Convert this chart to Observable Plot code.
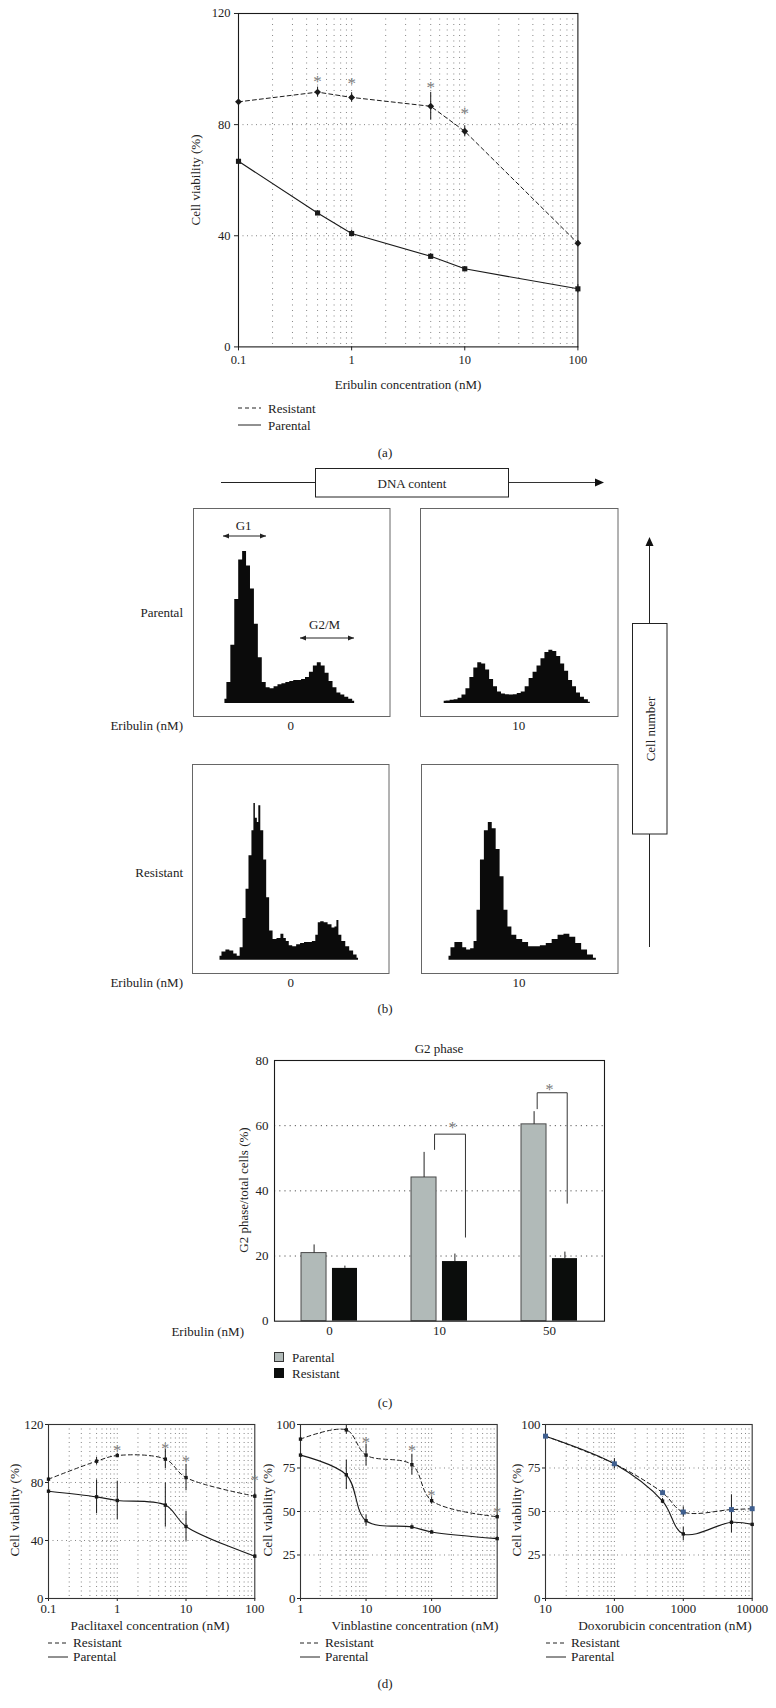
<!DOCTYPE html>
<html><head><meta charset="utf-8">
<script src="https://cdn.jsdelivr.net/npm/d3@7"></script>
<script src="https://cdn.jsdelivr.net/npm/@observablehq/plot@0.6"></script>
<style>
html,body{margin:0;padding:0;background:#fff;}
#page{position:relative;width:776px;height:1708px;overflow:hidden;background:#fff;font-family:"Liberation Serif","DejaVu Serif",serif;color:#222;}
.t{position:absolute;white-space:nowrap;line-height:1;}
.abs{position:absolute;}
</style></head><body><div id="page"></div>
<script>
// ---------------- DATA ----------------
// (a) Eribulin viability
const eribulinConc = [0.1, 0.5, 1, 5, 10, 100];
const eribulinTicks = [0.1, 1, 10, 100];
const aResistant = [88.2, 91.7, 89.8, 86.6, 77.6, 37.3];
const aResistantErr = [1.5, 1.8, 1.7, 5.0, 2.0, 1.0];
const aParental = [66.8, 48.2, 40.8, 32.6, 28.1, 20.9];
const aParentalErr = [3.3, 0.8, 1.2, 1.0, 0.8, 1.5];
const aStarConc = [0.5, 1, 5, 10];
const aStarY = [97.2, 96.6, 95.0, 85.8];

// (b) DNA content histograms (channel 0-100 across the box, count as % of box height)
const p0Channel = [16,18,20,22,24,26,28,30,32,34,36,38,40,42,44,46,48,50,52,54,56,58,60,62,64,66,68,70,72,74,76,78,80,82];
const p0Count = [2,10,28,50,69,73,66,55,38,22,10,7.5,7,8,9,9.5,10,10.5,11,11,11.5,12.5,15,18,19.5,18,14.5,10.5,7.5,5,4,3,2,1];
const p10Channel = [12,14,16,18,20,22,24,26,28,30,32,34,36,38,40,42,44,46,48,50,52,54,56,58,60,62,64,66,68,70,72,74,76,78,80,82,84,86];
const p10Count = [1,1.2,1.5,1.8,2.5,4,7,12.5,17,19.5,19,16,11.5,8,5.5,4.5,4.2,4,4.2,4.8,5.5,8,12,15,18,21.5,24.5,25.5,25,22.5,19,15.5,11,8,5,3,1.8,0.5];
const r0Channel = [14,16,18,20,22,23.5,25,26.5,28,29.5,31,31.5,32.5,33.5,34,35.5,37,38.5,40,42,44,46,47,48.5,50,52,54,56,58,60,62,63.5,64.5,66,68,70,72,73,74,75,77,79,81,83,84.5];
const r0Count = [2,4,5,4.5,3,2,6,20,34,50,62,75,68,66,74,62,48,30,14,10,10.5,12.5,10.5,9,7,6.5,7.5,8,8.5,8.5,9,12,18,18.5,18,17,15.5,16,19,12,9,6.5,4.5,2.5,1];
const r10Channel = [14,16,18,20,22,24,26,27.5,29,31,33,35,37,39,41,43,45,47,50,53,56,59,62,65,68,71,74,77,80,83,86,89];
const r10Count = [2,6,8.5,8.5,6,5,5.5,9,24,48,62,66,63,53,40,24,16,12,10,8.5,6.5,6.5,7,8,10,12,12.5,11,8,5,2.5,1];

// (c) G2 phase bars
const doses = ["0", "10", "50"];
const cParental = [20.9, 44.1, 60.4];
const cParentalErr = [2.5, 7.7, 3.9];
const cResistant = [16.2, 18.3, 19.2];
const cResistantErr = [0.7, 2.3, 2.0];
const cBracketDose = [1, 2];
const cBracketLeft = [-0.045, -0.112];
const cBracketRight = [0.236, 0.161];
const cBracketTop = [57.4, 70.1];
const cBracketLeftEnd = [52.7, 65.2];
const cBracketRightEnd = [25.8, 36.2];
const cStarOffset = [0.118, 0.0];
const cStarY = [61.0, 72.6];

// (d) other drugs
const pacConc = [0.1, 0.5, 1, 5, 10, 100];
const pacTicks = [0.1, 1, 10, 100];
const pacResistant = [82.3, 94.7, 98.6, 96.1, 83.4, 70.6];
const pacResistantErr = [1.5, 2.6, 1.5, 6.7, 9.1, 1.5];
const pacParental = [74.0, 70.1, 67.6, 64.4, 49.7, 29.2];
const pacParentalErr = [1.0, 11.7, 13.3, 15.2, 10.3, 1.0];
const pacStarConc = [1, 5, 10, 100];
const pacStarY = [105.0, 106.4, 97.7, 84.6];

const vinConc = [1, 5, 10, 50, 100, 1000];
const vinTicks = [1, 10, 100];
const vinResistant = [91.6, 96.9, 82.4, 76.9, 56.2, 47.0];
const vinResistantErr = [1.0, 2.5, 6.3, 6.0, 2.0, 1.0];
const vinParental = [82.4, 71.1, 44.7, 41.1, 38.2, 34.4];
const vinParentalErr = [1.0, 8.5, 3.2, 1.2, 1.0, 1.0];
const vinStarConc = [10, 50, 100, 1000];
const vinStarY = [92.4, 87.6, 61.6, 52.2];

const doxConc = [10, 100, 500, 1000, 5000, 10000];
const doxTicks = [10, 100, 1000, 10000];
const doxResistant = [93.3, 77.4, 60.8, 49.7, 51.1, 51.6];
const doxResistantErr = [0.5, 1.5, 1.5, 3.0, 8.5, 1.0];
const doxParental = [93.3, 77.4, 56.0, 37.1, 43.8, 42.6];
const doxParentalErr = [0.5, 3.0, 1.5, 4.0, 6.0, 0.5];

// ---------------- HELPERS ----------------
const SERIF = '"Liberation Serif","DejaVu Serif",serif';
const INK = "#1a1a1a";
const FS = 13;
const page = document.getElementById("page");
function text(str, x, y, o = {}) {
  const {anchor = "middle", size = FS, rotate = 0, color = "#222"} = o;
  const d = document.createElement("div");
  d.className = "t"; d.textContent = str;
  d.style.left = x + "px"; d.style.top = y + "px";
  d.style.fontSize = size + "px"; d.style.color = color;
  const tx = anchor === "middle" ? "-50%" : anchor === "end" ? "-100%" : "0";
  d.style.transform = `translate(${tx},-50%)` + (rotate ? ` rotate(${rotate}deg)` : "");
  page.appendChild(d);
}
function place(el, left, top) {
  const d = document.createElement("div");
  d.className = "abs"; d.style.left = left + "px"; d.style.top = top + "px";
  d.appendChild(el); page.appendChild(d);
}
function logGrid([lo, hi]) {
  const out = [];
  for (let e = Math.floor(Math.log10(lo)) ; e <= Math.ceil(Math.log10(hi)); e++)
    for (let k = 1; k < 10; k++) { const v = k * Math.pow(10, e); if (v > lo * 1.001 && v < hi * 0.999) out.push(v); }
  return out;
}
const plotStyle = (fs) => ({fontFamily: SERIF, fontSize: fs + "px", background: "transparent", color: "#222", overflow: "visible"});
const dotted = (dash) => ({stroke: "#777", strokeWidth: 0.9, strokeDasharray: dash});

// ---------------- (a) ----------------
{
  const data = eribulinConc.map((c, i) => ({c, r: aResistant[i], re: aResistantErr[i], p: aParental[i], pe: aParentalErr[i]}));
  const stars = aStarConc.map((c, i) => ({c, y: aStarY[i]}));
  const fw = 339.4, fh = 333.4, ml = 40, mr = 10, mt = 10, mb = 30;
  const pl = Plot.plot({
    width: fw + ml + mr, height: fh + mt + mb, marginLeft: ml, marginRight: mr, marginTop: mt, marginBottom: mb,
    style: plotStyle(12.5),
    x: {type: "log", domain: [0.1, 100], ticks: eribulinTicks, tickFormat: d => String(d), tickSize: 4, tickPadding: 4, label: null},
    y: {domain: [0, 120], ticks: [0, 40, 80, 120], tickSize: 4, tickPadding: 4, label: null},
    marks: [
      Plot.ruleX(logGrid([0.1, 100]), dotted("1,4.5")),
      Plot.ruleY([40, 80], dotted("1,3.5")),
      Plot.frame({stroke: INK, strokeWidth: 1.1}),
      Plot.ruleX(data, {x: "c", y1: d => d.r - d.re, y2: d => d.r + d.re, stroke: INK}),
      Plot.ruleX(data, {x: "c", y1: d => d.p - d.pe, y2: d => d.p + d.pe, stroke: INK}),
      Plot.line(data, {x: "c", y: "r", stroke: INK, strokeWidth: 1, strokeDasharray: "4,3"}),
      Plot.line(data, {x: "c", y: "p", stroke: INK, strokeWidth: 1.1}),
      Plot.dot(data, {x: "c", y: "r", symbol: "diamond2", fill: INK, r: 3.1}),
      Plot.dot(data, {x: "c", y: "p", symbol: "square", fill: INK, r: 2.9}),
      Plot.text(stars, {x: "c", y: "y", text: () => "*", fill: "#7a7a7a", fontSize: 17, dy: 5})
    ]
  });
  place(pl, 237.6 - ml, 13.3 - mt);
  text("Cell viability (%)", 195, 180, {rotate: -90});
  text("Eribulin concentration (nM)", 408, 384);
  text("Resistant", 268, 408, {anchor: "start"});
  text("Parental", 268, 425, {anchor: "start"});
  text("(a)", 385, 452);
}

// ---------------- (b) ----------------
function histPlot(ch, ct, w, h) {
  const data = ch.map((c, i) => ({c, n: ct[i]}));
  return Plot.plot({
    width: w, height: h, margin: 0, style: plotStyle(10),
    x: {domain: [0, 100], axis: null}, y: {domain: [-6.3, 93.7], axis: null},
    marks: [
      Plot.areaY(data, {x: "c", y: "n", curve: "step", fill: "#0b0b0b"}),
      Plot.frame({stroke: "#666"})
    ]
  });
}
place(histPlot(p0Channel, p0Count, 196.5, 208), 192.5, 508);
place(histPlot(p10Channel, p10Count, 197.5, 208), 420, 508);
place(histPlot(r0Channel, r0Count, 196.5, 209), 191.5, 764);
place(histPlot(r10Channel, r10Count, 196.5, 209), 421, 764);
text("DNA content", 412, 482.5);
text("Parental", 183, 612, {anchor: "end"});
text("Eribulin (nM)", 183, 725, {anchor: "end"});
text("Resistant", 183, 872, {anchor: "end"});
text("Eribulin (nM)", 183, 982, {anchor: "end"});
text("0", 290.7, 725); text("10", 518.8, 725);
text("0", 290.7, 982); text("10", 519, 982);
text("G1", 243.6, 525);
text("G2/M", 324.6, 624);
text("Cell number", 649.5, 728.5, {rotate: -90});
text("(b)", 385, 1008);

// ---------------- (c) ----------------
{
  const data = doses.map((d, i) => ({i, p: cParental[i], pe: cParentalErr[i], r: cResistant[i], re: cResistantErr[i]}));
  const br = [];
  cBracketDose.forEach((g, k) => {
    br.push({k, x: g + cBracketLeft[k], y: cBracketLeftEnd[k]});
    br.push({k, x: g + cBracketLeft[k], y: cBracketTop[k]});
    br.push({k, x: g + cBracketRight[k], y: cBracketTop[k]});
    br.push({k, x: g + cBracketRight[k], y: cBracketRightEnd[k]});
  });
  const stars = cBracketDose.map((g, k) => ({x: g + cStarOffset[k], y: cStarY[k]}));
  const fw = 330, fh = 260.7, ml = 40, mr = 10, mt = 10, mb = 25;
  const pl = Plot.plot({
    width: fw + ml + mr, height: fh + mt + mb, marginLeft: ml, marginRight: mr, marginTop: mt, marginBottom: mb,
    style: plotStyle(13),
    x: {domain: [-0.5, 2.5], ticks: [0, 1, 2], tickFormat: i => doses[i], tickSize: 0, tickPadding: 5, label: null},
    y: {domain: [0, 80], ticks: [0, 20, 40, 60, 80], tickSize: 0, tickPadding: 6, label: null},
    marks: [
      Plot.ruleY([20, 40, 60], {stroke: "#555", strokeWidth: 1, strokeDasharray: "1.2,4"}),
      Plot.rect(data, {x1: d => d.i - 0.2545, x2: d => d.i - 0.027, y1: 0, y2: "p", fill: "#b1bab8", stroke: "#4a4a4a", strokeWidth: 1}),
      Plot.rect(data, {x1: d => d.i + 0.027, x2: d => d.i + 0.2545, y1: 0, y2: "r", fill: "#0b0d0c"}),
      Plot.ruleX(data, {x: d => d.i - 0.14, y1: "p", y2: d => d.p + d.pe, stroke: "#222"}),
      Plot.ruleX(data, {x: d => d.i + 0.14, y1: "r", y2: d => d.r + d.re, stroke: "#222"}),
      Plot.line(br, {x: "x", y: "y", z: "k", stroke: "#333", strokeWidth: 1}),
      Plot.text(stars, {x: "x", y: "y", text: () => "*", fill: "#7a7a7a", fontSize: 16, dy: 5}),
      Plot.frame({stroke: INK, strokeWidth: 1.1})
    ]
  });
  place(pl, 274 - ml, 1060 - mt);
  text("G2 phase", 439, 1048);
  text("G2 phase/total cells (%)", 243, 1190, {rotate: -90});
  text("Eribulin (nM)", 244, 1331, {anchor: "end"});
  text("Parental", 292, 1357, {anchor: "start"});
  text("Resistant", 292, 1373, {anchor: "start"});
  text("(c)", 385, 1402);
}

// ---------------- (d) ----------------
function dPlot(o) {
  const data = o.conc.map((c, i) => ({c, r: o.res[i], re: o.resErr[i], p: o.par[i], pe: o.parErr[i]}));
  const stars = (o.starConc || []).map((c, i) => ({c, y: o.starY[i]}));
  const fh = 174, ml = 32, mr = 8, mt = 8, mb = 24;
  const pl = Plot.plot({
    width: o.fw + ml + mr, height: fh + mt + mb, marginLeft: ml, marginRight: mr, marginTop: mt, marginBottom: mb,
    style: plotStyle(12.8),
    x: {type: "log", domain: o.xDomain, ticks: o.xTicks, tickFormat: d => String(d), tickSize: 3, tickPadding: 2, label: null},
    y: {domain: o.yDomain, ticks: o.yTicks, tickSize: 3, tickPadding: 2, label: null},
    marks: [
      Plot.ruleX(logGrid(o.xDomain), dotted("1,3.5")),
      Plot.ruleY(o.yTicks.slice(1, -1), dotted("1,3.5")),
      Plot.frame({stroke: "#333", strokeWidth: 1.1}),
      Plot.ruleX(data, {x: "c", y1: d => d.p - d.pe, y2: d => d.p + d.pe, stroke: INK}),
      Plot.ruleX(data, {x: "c", y1: d => d.r - d.re, y2: d => d.r + d.re, stroke: INK}),
      Plot.line(data, {x: "c", y: "p", curve: "catmull-rom", stroke: INK, strokeWidth: 1.1}),
      Plot.line(data, {x: "c", y: "r", curve: "catmull-rom", stroke: INK, strokeWidth: 1, strokeDasharray: "4,3"}),
      Plot.dot(data, {x: "c", y: "p", symbol: "square", fill: INK, r: 1.9}),
      Plot.dot(data, {x: "c", y: "r", symbol: o.resSymbol || "square", fill: o.resColor || INK, r: o.resR || 1.9}),
      Plot.text(stars, {x: "c", y: "y", text: () => "*", fill: "#7a7a7a", fontSize: 16, dy: 5})
    ]
  });
  place(pl, o.left - ml, 1424.3 - mt);
}
dPlot({left: 47.7, fw: 206.3, conc: pacConc, res: pacResistant, resErr: pacResistantErr, par: pacParental, parErr: pacParentalErr,
  starConc: pacStarConc, starY: pacStarY, xDomain: [0.1, 100], xTicks: pacTicks, yDomain: [0, 120], yTicks: [0, 40, 80, 120]});
dPlot({left: 300, fw: 196.7, conc: vinConc, res: vinResistant, resErr: vinResistantErr, par: vinParental, parErr: vinParentalErr,
  starConc: vinStarConc, starY: vinStarY, xDomain: [1, 1000], xTicks: vinTicks, yDomain: [0, 100], yTicks: [0, 25, 50, 75, 100]});
dPlot({left: 545, fw: 206.7, conc: doxConc, res: doxResistant, resErr: doxResistantErr, par: doxParental, parErr: doxParentalErr,
  xDomain: [10, 10000], xTicks: doxTicks, yDomain: [0, 100], yTicks: [0, 25, 50, 75, 100], resColor: "#3f5f8f", resR: 2.8});
text("Cell viability (%)", 15, 1510, {rotate: -90, size: 13.3});
text("Cell viability (%)", 268, 1510, {rotate: -90, size: 13.3});
text("Cell viability (%)", 517, 1510, {rotate: -90, size: 13.3});
text("Paclitaxel concentration (nM)", 150, 1626, {size: 13.3});
text("Vinblastine concentration (nM)", 415, 1626, {size: 13.3});
text("Doxorubicin concentration (nM)", 665, 1626, {size: 13.3});
[[73, 48], [325, 300], [571, 546]].forEach(([tx]) => {
  text("Resistant", tx, 1643, {anchor: "start", size: 13.3});
  text("Parental", tx, 1657, {anchor: "start", size: 13.3});
});
text("(d)", 385, 1683);

// ---------------- annotation overlay (arrows, boxes, legend keys) ----------------
{
  const ns = "http://www.w3.org/2000/svg";
  const svg = document.createElementNS(ns, "svg");
  svg.setAttribute("width", 776); svg.setAttribute("height", 1708);
  svg.style.position = "absolute"; svg.style.left = "0"; svg.style.top = "0"; svg.style.pointerEvents = "none";
  const dh = (x1, x2, y) => `<line x1="${x1}" y1="${y}" x2="${x2}" y2="${y}" stroke="#222" stroke-width="1"/>` +
    `<polygon points="${x1},${y} ${x1 + 6},${y - 2.5} ${x1 + 6},${y + 2.5}" fill="#222"/>` +
    `<polygon points="${x2},${y} ${x2 - 6},${y - 2.5} ${x2 - 6},${y + 2.5}" fill="#222"/>`;
  let s = "";
  // legend (a)
  s += `<line x1="238" y1="408" x2="261" y2="408" stroke="#222" stroke-dasharray="4,3"/>`;
  s += `<line x1="238" y1="425" x2="261" y2="425" stroke="#222"/>`;
  // DNA content
  s += `<line x1="221" y1="482.5" x2="315" y2="482.5" stroke="#222"/>`;
  s += `<rect x="315.5" y="468.5" width="193" height="28.5" fill="none" stroke="#222"/>`;
  s += `<line x1="509" y1="482.5" x2="596" y2="482.5" stroke="#333" stroke-width="1.2"/>`;
  s += `<polygon points="604,482.5 595,478.5 595,486.5" fill="#111"/>`;
  s += dh(223, 266, 536) + dh(300, 354, 638);
  // Cell number
  s += `<rect x="632.5" y="623.5" width="34.5" height="210.5" fill="none" stroke="#222"/>`;
  s += `<line x1="649.5" y1="545" x2="649.5" y2="623.5" stroke="#222"/>`;
  s += `<polygon points="649.5,537 645.5,546 653.5,546" fill="#111"/>`;
  s += `<line x1="649.5" y1="834" x2="649.5" y2="947" stroke="#222"/>`;
  // legend (c)
  s += `<rect x="274.5" y="1352.5" width="9" height="9" fill="#b1bab8" stroke="#333"/>`;
  s += `<rect x="274" y="1368" width="10" height="10" fill="#0b0d0c"/>`;
  // legends (d)
  [48, 300, 546].forEach(x => {
    s += `<line x1="${x}" y1="1643" x2="${x + 20}" y2="1643" stroke="#222" stroke-dasharray="4,3"/>`;
    s += `<line x1="${x}" y1="1657" x2="${x + 20}" y2="1657" stroke="#222"/>`;
  });
  svg.innerHTML = s;
  page.appendChild(svg);
}
</script></body></html>
